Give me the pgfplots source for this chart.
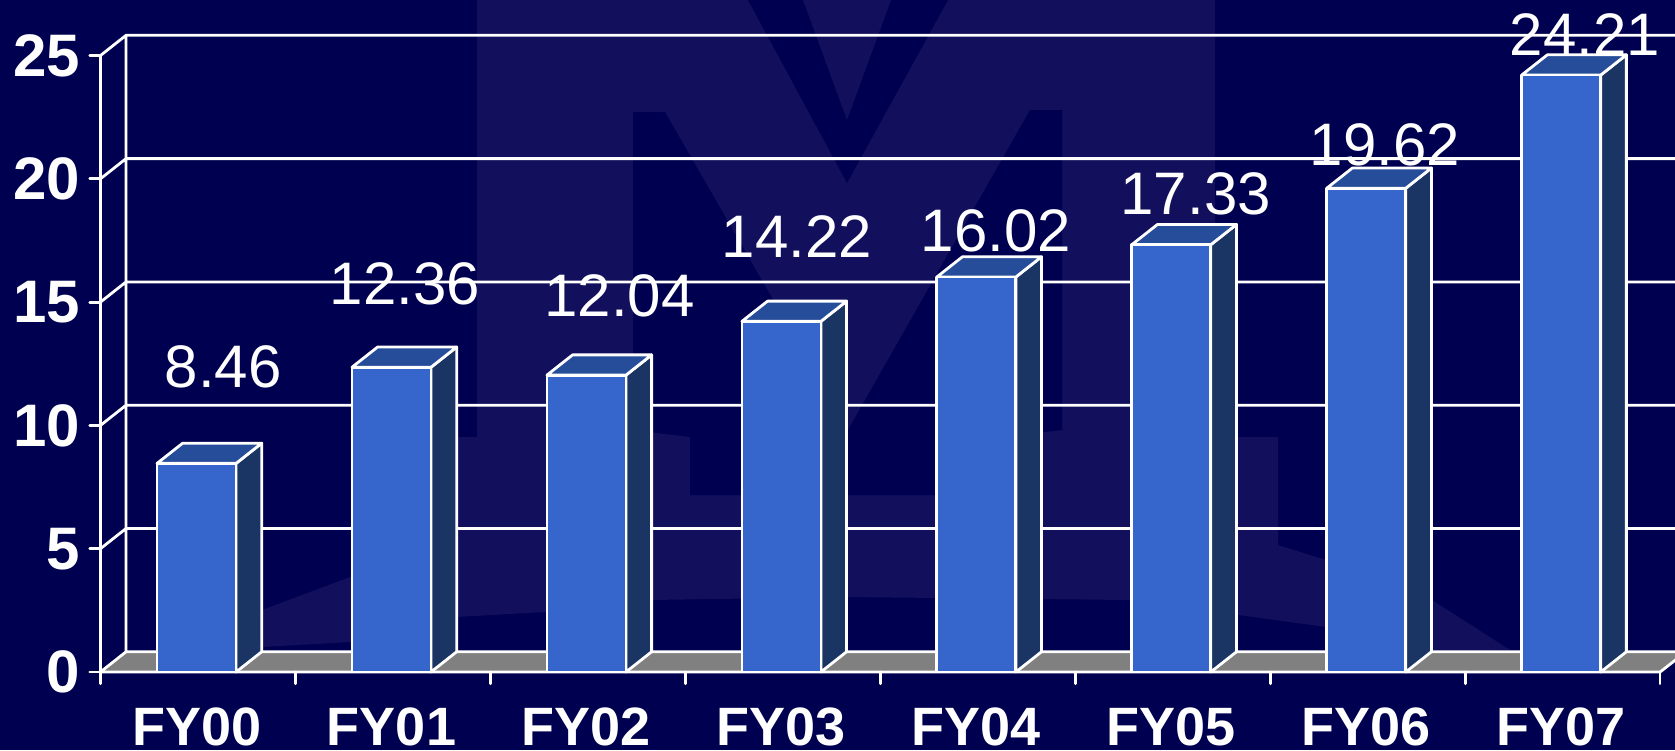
\documentclass[border=0pt]{standalone}
\usepackage{fontspec}
\setmainfont{Liberation Sans}
\usepackage{pgfplots}
\usepackage{pgfplotstable}
\pgfplotsset{compat=1.18}
\definecolor{BgNavy}{RGB}{0,0,80}
\definecolor{MarkNavy}{RGB}{18,16,92}
\definecolor{BarFront}{RGB}{54,101,204}
\definecolor{BarSide}{RGB}{26,52,100}
\definecolor{BarTop}{RGB}{38,77,153}
\definecolor{FloorGray}{RGB}{128,128,128}

% bar heights
\pgfplotstableread{
x v
0 8.46
1 12.36
2 12.04
3 14.22
4 16.02
5 17.33
6 19.62
7 24.21
}\bars

% label positions (centre, baseline), they are not regular in the slide
\pgfplotstableread{
x y label
0.136 11.53 8.46
1.068 14.90 12.36
2.170 14.43 12.04
3.080 16.80 14.22
4.100 17.07 16.02
5.125 18.55 17.33
6.095 20.54 19.62
7.122 25.00 24.21
}\labelpos

\tikzset{wall/.style={white, line width=1.4pt, line cap=round},
         face/.style={draw=white, line width=1.4pt, line join=round}}

\begin{document}
\begin{tikzpicture}
% slide background and watermark, in image pixels
\begin{axis}[
  at={(0,0)}, anchor=south west,
  scale only axis, width=837.5pt, height=375pt,
  xmin=0, xmax=1675, ymin=0, ymax=750, y dir=reverse,
  hide axis,
]
\addplot[fill=BgNavy, draw=none] coordinates {(0,0)(1675,0)(1675,750)(0,750)} -- cycle;
\addplot[fill=MarkNavy, draw=none] coordinates {
  (477,0)(1215,0)(1215,437)(1278,437)(1278,545)(1326,560)(1432,600)(1510,650)
  (1432,652)(1326,627)(1130,600)(846,597)(650,600)(545,612)(456,617)(350,642)
  (262,647)(262,610)(350,577)(414,545)(414,437)(477,437)
} -- cycle;
% top V, with the lighter wedge inside it
\addplot[fill=BgNavy, draw=none] coordinates {(748,0)(948,0)(847,183)} -- cycle;
\addplot[fill=MarkNavy, draw=none] coordinates {(803,0)(891,0)(847,120)} -- cycle;
% inner part of the M
\addplot[fill=BgNavy, draw=none] coordinates {
  (633,112)(665,112)(848,430)(1030,110)(1062,110)(1062,430)(1002,437)(1002,495)
  (690,495)(690,437)(633,430)
} -- cycle;
\end{axis}

\begin{axis}[
  at={(0,0)}, anchor=south west,
  scale only axis, width=837.5pt, height=375pt,
  xmin=-1.0082, xmax=7.5836, ymin=-3.163, ymax=27.253,
  axis line style={draw=none},
  tick style={draw=none}, major tick length=0pt,
  xtick={0,1,2,3,4,5,6,7},
  xticklabels={FY00,FY01,FY02,FY03,FY04,FY05,FY06,FY07},
  ytick={0,5,10,15,20,25},
  /pgf/number format/assume math mode=true,
  tick label style={text=white, inner sep=0pt},
  xticklabel style={font=\fontsize{27}{27}\selectfont\bfseries, anchor=base, yshift=2.1pt},
  yticklabel style={font=\fontsize{30}{30}\selectfont\bfseries, anchor=east, xshift=40.2pt},
]
% floor
\addplot[fill=FloorGray, draw=none, forget plot] coordinates {
  (-0.493,0)(-0.3617,0.82)(7.64,0.82)(7.507,0)} -- cycle;
% back wall grid, left wall, floor lines
\addplot[wall, unbounded coords=jump, forget plot] coordinates {
  (-0.3617,0.82)(7.64,0.82)(nan,nan)
  (-0.3617,5.82)(7.64,5.82)(nan,nan)
  (-0.3617,10.82)(7.64,10.82)(nan,nan)
  (-0.3617,15.82)(7.64,15.82)(nan,nan)
  (-0.3617,20.82)(7.64,20.82)(nan,nan)
  (-0.3617,25.82)(7.64,25.82)(nan,nan)
  (-0.493,0)(-0.493,25)(nan,nan)
  (-0.3617,0.82)(-0.3617,25.82)(nan,nan)
  (-0.493,0)(-0.3617,0.82)(nan,nan)
  (-0.493,5)(-0.3617,5.82)(nan,nan)
  (-0.493,10)(-0.3617,10.82)(nan,nan)
  (-0.493,15)(-0.3617,15.82)(nan,nan)
  (-0.493,20)(-0.3617,20.82)(nan,nan)
  (-0.493,25)(-0.3617,25.82)(nan,nan)
  (-0.493,0)(7.507,0)(nan,nan)
  (7.507,0)(7.64,0.82)
};
% tick marks
\addplot[wall, unbounded coords=jump, forget plot] coordinates {
  (-0.548,0)(-0.493,0)(nan,nan)
  (-0.548,5)(-0.493,5)(nan,nan)
  (-0.548,10)(-0.493,10)(nan,nan)
  (-0.548,15)(-0.493,15)(nan,nan)
  (-0.548,20)(-0.493,20)(nan,nan)
  (-0.548,25)(-0.493,25)(nan,nan)
  (-0.493,0)(-0.493,-0.476)(nan,nan)
  (0.507,0)(0.507,-0.476)(nan,nan)
  (1.507,0)(1.507,-0.476)(nan,nan)
  (2.507,0)(2.507,-0.476)(nan,nan)
  (3.507,0)(3.507,-0.476)(nan,nan)
  (4.507,0)(4.507,-0.476)(nan,nan)
  (5.507,0)(5.507,-0.476)(nan,nan)
  (6.507,0)(6.507,-0.476)(nan,nan)
  (7.507,0)(7.507,-0.476)
};
% side faces
\addplot[face, fill=BarSide] coordinates {(0.2027,0)(0.3342,0.82)(0.3342,9.28)(0.2027,8.46)} -- cycle;
\addplot[face, fill=BarSide] coordinates {(1.2027,0)(1.3342,0.82)(1.3342,13.18)(1.2027,12.36)} -- cycle;
\addplot[face, fill=BarSide] coordinates {(2.2027,0)(2.3342,0.82)(2.3342,12.86)(2.2027,12.04)} -- cycle;
\addplot[face, fill=BarSide] coordinates {(3.2027,0)(3.3342,0.82)(3.3342,15.04)(3.2027,14.22)} -- cycle;
\addplot[face, fill=BarSide] coordinates {(4.2027,0)(4.3342,0.82)(4.3342,16.84)(4.2027,16.02)} -- cycle;
\addplot[face, fill=BarSide] coordinates {(5.2027,0)(5.3342,0.82)(5.3342,18.15)(5.2027,17.33)} -- cycle;
\addplot[face, fill=BarSide] coordinates {(6.2027,0)(6.3342,0.82)(6.3342,20.44)(6.2027,19.62)} -- cycle;
\addplot[face, fill=BarSide] coordinates {(7.2027,0)(7.3342,0.82)(7.3342,25.03)(7.2027,24.21)} -- cycle;
% top faces
\addplot[face, fill=BarTop] coordinates {(-0.2027,8.46)(-0.0712,9.28)(0.3342,9.28)(0.2027,8.46)} -- cycle;
\addplot[face, fill=BarTop] coordinates {(0.7973,12.36)(0.9288,13.18)(1.3342,13.18)(1.2027,12.36)} -- cycle;
\addplot[face, fill=BarTop] coordinates {(1.7973,12.04)(1.9288,12.86)(2.3342,12.86)(2.2027,12.04)} -- cycle;
\addplot[face, fill=BarTop] coordinates {(2.7973,14.22)(2.9288,15.04)(3.3342,15.04)(3.2027,14.22)} -- cycle;
\addplot[face, fill=BarTop] coordinates {(3.7973,16.02)(3.9288,16.84)(4.3342,16.84)(4.2027,16.02)} -- cycle;
\addplot[face, fill=BarTop] coordinates {(4.7973,17.33)(4.9288,18.15)(5.3342,18.15)(5.2027,17.33)} -- cycle;
\addplot[face, fill=BarTop] coordinates {(5.7973,19.62)(5.9288,20.44)(6.3342,20.44)(6.2027,19.62)} -- cycle;
\addplot[face, fill=BarTop] coordinates {(6.7973,24.21)(6.9288,25.03)(7.3342,25.03)(7.2027,24.21)} -- cycle;
% front faces
\addplot[ybar, bar width=0.4054, bar shift=0pt, face, fill=BarFront] table[x=x, y=v] {\bars};
% value labels
\addplot[draw=none, mark=none,
  nodes near coords, point meta=explicit symbolic,
  every node near coord/.append style={anchor=base, inner sep=0pt, text=white,
    font=\fontsize{30}{30}\selectfont},
] table[x=x, y=y, meta=label] {\labelpos};
\end{axis}
\end{tikzpicture}
\end{document}
